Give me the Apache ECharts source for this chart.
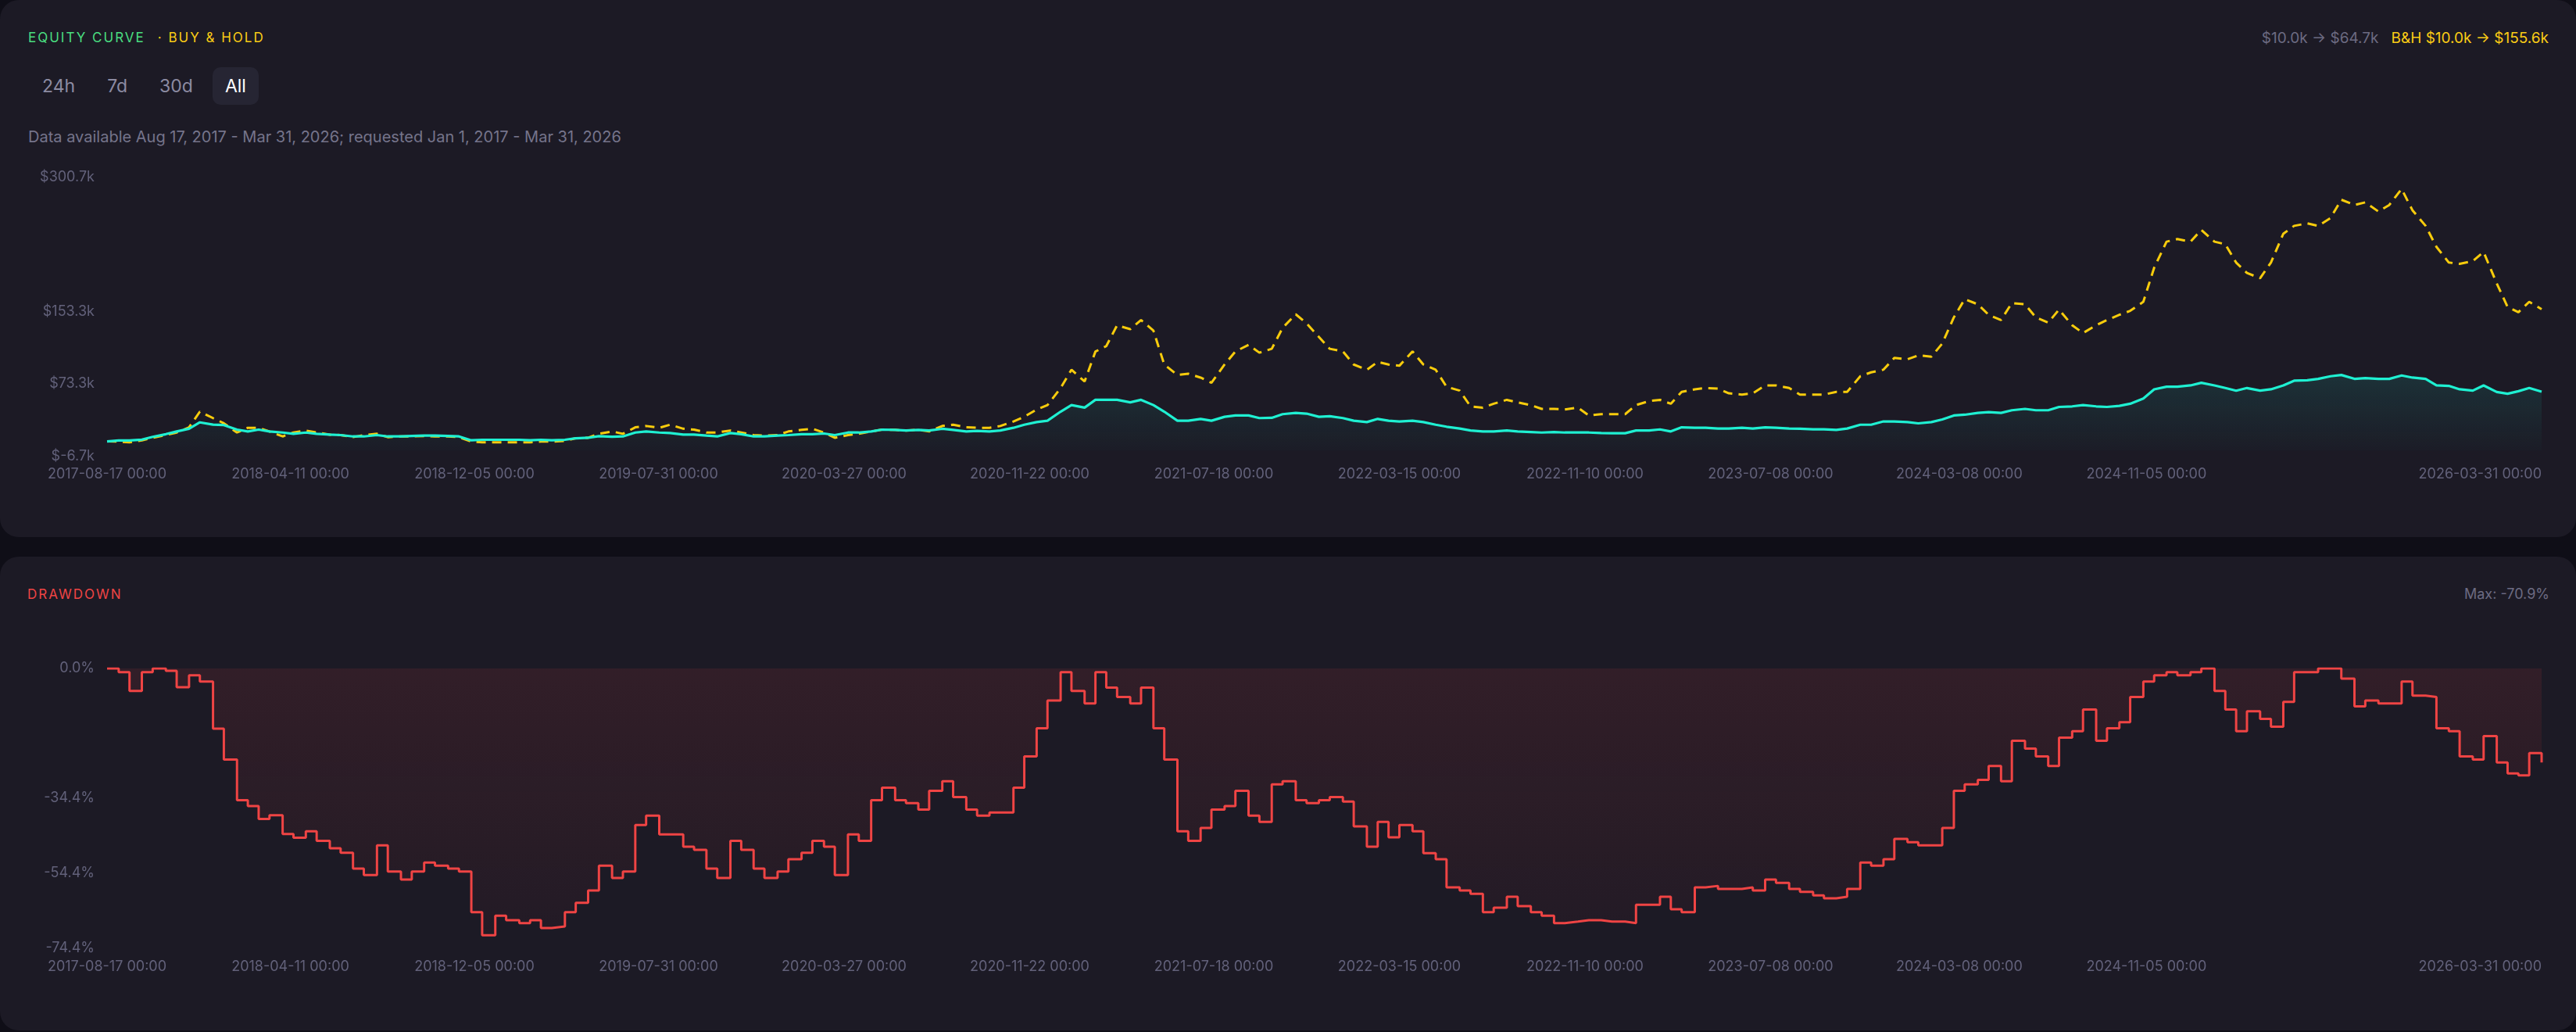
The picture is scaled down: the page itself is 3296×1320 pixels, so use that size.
<!DOCTYPE html>
<html>
<head>
<meta charset="utf-8">
<title>Equity curve</title>
<script src="https://cdn.jsdelivr.net/npm/echarts@6/dist/echarts.min.js"></script>
<style>
  html, body { margin: 0; padding: 0; background: #0f0e17; }
  body { width: 3296px; height: 1320px; position: relative; overflow: hidden; font-family: Inter, 'Noto Sans', sans-serif; }
  .card { position: absolute; left: 0; width: 3296px; background: #1c1a25; border-radius: 24px; }
  #cardTop { top: 0; height: 687px; }
  #cardDd { top: 712px; height: 606px; }
  .t { position: absolute; line-height: 1; transform: translateY(-50%); white-space: nowrap; }
  .ttl { font-size: 17px; letter-spacing: 2px; }
  .green { color: #4ade80; }
  .yellow { color: #facc15; }
  .red { color: #ef4444; }
  .muted { color: #6c6b82; font-size: 18px; }
  .ranges { position: absolute; left: 38px; top: 86px; height: 48px; display: flex; }
  .ranges span { display: block; padding: 0 16px; margin-right: 9px; line-height: 48px; font-size: 23px; color: #8c8ba2; border-radius: 10px; }
  .ranges span.on { background: #262533; color: #ffffff; }
  #chart { position: absolute; left: 0; top: 0; width: 3296px; height: 1320px; }
</style>
</head>
<body>
<div class="card" id="cardTop"></div>
<div class="card" id="cardDd"></div>

<div class="t ttl" style="left:36px; top:48px;"><span class="green">EQUITY CURVE</span><span class="yellow" style="margin-left:16px;">· BUY &amp; HOLD</span></div>
<div class="t muted" style="right:35px; top:48px; font-size:19px;">$10.0k → $64.7k<span class="yellow" style="margin-left:16px;">B&amp;H $10.0k → $155.6k</span></div>
<div class="ranges"><span>24h</span><span>7d</span><span>30d</span><span class="on">All</span></div>
<div class="t muted" style="left:36px; top:175px; color:#75748b; font-size:20px;">Data available Aug 17, 2017 - Mar 31, 2026; requested Jan 1, 2017 - Mar 31, 2026</div>

<div class="t ttl red" style="left:35px; top:760px;">DRAWDOWN</div>
<div class="t muted" style="right:34px; top:760px;">Max: -70.9%</div>

<div id="chart"></div>

<script>
// sample dates (1st and 15th of each month)
const dates = [
  '2017-08-17', '2017-09-01', '2017-09-15', '2017-10-01', '2017-10-15', '2017-11-01', '2017-11-15', '2017-12-01', '2017-12-15',
  '2018-01-01', '2018-01-15', '2018-02-01', '2018-02-15', '2018-03-01', '2018-03-15', '2018-04-01', '2018-04-15', '2018-05-01', '2018-05-15', '2018-06-01', '2018-06-15',
  '2018-07-01', '2018-07-15', '2018-08-01', '2018-08-15', '2018-09-01', '2018-09-15', '2018-10-01', '2018-10-15', '2018-11-01', '2018-11-15', '2018-12-01', '2018-12-15',
  '2019-01-01', '2019-01-15', '2019-02-01', '2019-02-15', '2019-03-01', '2019-03-15', '2019-04-01', '2019-04-15', '2019-05-01', '2019-05-15', '2019-06-01', '2019-06-15',
  '2019-07-01', '2019-07-15', '2019-08-01', '2019-08-15', '2019-09-01', '2019-09-15', '2019-10-01', '2019-10-15', '2019-11-01', '2019-11-15', '2019-12-01', '2019-12-15',
  '2020-01-01', '2020-01-15', '2020-02-01', '2020-02-15', '2020-03-01', '2020-03-15', '2020-04-01', '2020-04-15', '2020-05-01', '2020-05-15', '2020-06-01', '2020-06-15',
  '2020-07-01', '2020-07-15', '2020-08-01', '2020-08-15', '2020-09-01', '2020-09-15', '2020-10-01', '2020-10-15', '2020-11-01', '2020-11-15', '2020-12-01', '2020-12-15',
  '2021-01-01', '2021-01-15', '2021-02-01', '2021-02-15', '2021-03-01', '2021-03-15', '2021-04-01', '2021-04-15', '2021-05-01', '2021-05-15', '2021-06-01', '2021-06-15',
  '2021-07-01', '2021-07-15', '2021-08-01', '2021-08-15', '2021-09-01', '2021-09-15', '2021-10-01', '2021-10-15', '2021-11-01', '2021-11-15', '2021-12-01', '2021-12-15',
  '2022-01-01', '2022-01-15', '2022-02-01', '2022-02-15', '2022-03-01', '2022-03-15', '2022-04-01', '2022-04-15', '2022-05-01', '2022-05-15', '2022-06-01', '2022-06-15',
  '2022-07-01', '2022-07-15', '2022-08-01', '2022-08-15', '2022-09-01', '2022-09-15', '2022-10-01', '2022-10-15', '2022-11-01', '2022-11-15', '2022-12-01', '2022-12-15',
  '2023-01-01', '2023-01-15', '2023-02-01', '2023-02-15', '2023-03-01', '2023-03-15', '2023-04-01', '2023-04-15', '2023-05-01', '2023-05-15', '2023-06-01', '2023-06-15',
  '2023-07-01', '2023-07-15', '2023-08-01', '2023-08-15', '2023-09-01', '2023-09-15', '2023-10-01', '2023-10-15', '2023-11-01', '2023-11-15', '2023-12-01', '2023-12-15',
  '2024-01-01', '2024-01-15', '2024-02-01', '2024-02-15', '2024-03-01', '2024-03-15', '2024-04-01', '2024-04-15', '2024-05-01', '2024-05-15', '2024-06-01', '2024-06-15',
  '2024-07-01', '2024-07-15', '2024-08-01', '2024-08-15', '2024-09-01', '2024-09-15', '2024-10-01', '2024-10-15', '2024-11-01', '2024-11-15', '2024-12-01', '2024-12-15',
  '2025-01-01', '2025-01-15', '2025-02-01', '2025-02-15', '2025-03-01', '2025-03-15', '2025-04-01', '2025-04-15', '2025-05-01', '2025-05-15', '2025-06-01', '2025-06-15',
  '2025-07-01', '2025-07-15', '2025-08-01', '2025-08-15', '2025-09-01', '2025-09-15', '2025-10-01', '2025-10-15', '2025-11-01', '2025-11-15', '2025-12-01', '2025-12-15',
  '2026-01-01', '2026-01-15', '2026-02-01', '2026-02-15', '2026-03-01', '2026-03-15', '2026-03-31'
];

// strategy equity, $k
const stratEquity = [
  10, 11, 11, 12, 15, 18, 21, 24, 31,
  28.5, 28, 23, 21, 23, 21, 19.8, 18.4, 19.8, 18.4, 17.5, 17, 15.5, 15.5, 17, 15.5, 15.5, 16, 16.4, 16.4, 16, 15.5, 11.2, 11.8,
  11.8, 11.8, 11.8, 11.2, 11.8, 11.2, 11.8, 13.5, 14, 15.8, 15.2, 15.5, 19.8, 21, 19.8, 19.2, 17.5, 17.5, 16.4, 15.5, 19.2, 18, 15.5, 15.5,
  16.4, 17, 18, 18, 18.7, 17, 19.8, 19.8, 21, 23, 22.7, 22, 22.7, 22, 23.9, 22.7, 21, 21.6, 21, 22, 25, 28.4, 31.3, 32.8,
  42.8, 50, 47.2, 55.8, 55.8, 55.8, 53, 55.8, 50, 42.8, 32.8, 32.8, 34.8, 32.8, 37.1, 38.6, 38.6, 35.7, 36, 40, 41.4, 40.6, 37.1, 37.7,
  35.7, 32.8, 31.3, 34.8, 32.8, 32, 32.8, 31.3, 28.4, 26.2, 24.2, 22, 21, 21, 22, 21, 20.4, 19.8, 20.4, 19.8, 19.8, 19.8, 19.2, 19,
  19, 22, 22, 23.2, 21, 25.5, 25, 25, 24.2, 24.2, 25, 24.2, 25.5, 25, 24.2, 23.9, 23.3, 23.3, 22.7, 24.2, 28.4, 28.4, 32, 32,
  31.3, 29.9, 31.3, 34.2, 38.6, 39.4, 41.4, 42.3, 41.4, 44.3, 45.8, 44.3, 44.3, 48, 48.6, 50, 48.6, 48, 49.2, 51.5, 57.3, 67.4, 70.2, 70.2,
  71.7, 74.6, 71.7, 68.8, 65.9, 68.8, 65.9, 67.4, 71.7, 76.9, 77.4, 78.9, 81.8, 83.2, 78.9, 79.8, 78.9, 78.9, 82.6, 80.3, 78.9, 71.7, 71.2, 67.4,
  65.9, 71.7, 64.5, 62.5, 65.3, 68.8, 64.7
];

// buy & hold equity, $k
const bhEquity = [
  10, 9.8, 9, 11.2, 14, 17, 19.8, 25.5, 42.8,
  35.7, 30, 19.8, 25, 25, 21, 15.5, 19.8, 22, 19.8, 17.5, 17, 14.7, 17, 18.4, 14.7, 15.5, 15.5, 16, 15.5, 15.5, 14.7, 9.8, 9,
  9, 9, 9, 9, 9.8, 9.8, 10.6, 13.5, 14, 18.4, 21, 18.4, 25.5, 27, 25, 28.4, 24, 23, 19.8, 19.8, 22, 19.8, 17, 16.4,
  17, 21, 22.7, 24, 19.8, 14, 17, 18.4, 21, 23, 22.7, 22, 22.7, 21, 27, 28.4, 25.5, 25, 25, 27, 32, 37.1, 45.2, 50,
  68.8, 88.9, 76, 109, 114.9, 137.9, 133.6, 143.7, 132, 94.7, 83.2, 84.6, 80.3, 74.6, 94.7, 109.1, 116.3, 107.7, 112, 135, 150, 140, 125, 112,
  109.1, 94.7, 88.9, 97.6, 94.7, 93.3, 109.1, 94.7, 88.9, 70.2, 65.9, 48.6, 47.2, 51.5, 55.8, 53, 50, 45.8, 45.8, 45.2, 47.2, 38.6, 40, 40,
  40, 50, 54.4, 55.8, 51.5, 64.5, 67.4, 68.8, 68.2, 63, 61.6, 63, 71.7, 71.7, 68.8, 61.6, 61.6, 61.6, 64.5, 64.5, 81.8, 86.1, 89, 102,
  100.5, 104.8, 103.4, 117.8, 146.6, 166.7, 161, 149.4, 143.7, 162.4, 161, 146.6, 140.8, 155.2, 138, 129.3, 138, 143.7, 149.4, 153.8, 163.8, 201.3, 230, 232.9,
  230, 243, 230, 227.2, 207, 195.5, 189.8, 207, 238.7, 247.4, 250.2, 247.4, 256, 276.2, 270.4, 273.3, 263.2, 270.4, 288, 264.6, 247.4, 224.3, 207, 205.6,
  208.5, 218.6, 184, 158.1, 152.3, 163.8, 155.6
];

// strategy drawdown, %
const drawdown = [
  0, -1, -6, -1, 0, -0.6, -5, -1.8, -3.5,
  -16, -24.2, -35, -36.6, -40, -39, -44, -45, -43.3, -45.8, -47.8, -49, -53.2, -54.9, -47, -54, -56.1, -54, -51.6, -52.4, -53.2, -54, -64.8, -70.9,
  -65.7, -66.9, -67.7, -66.9, -69, -68.6, -64.8, -62.3, -59, -52.4, -55.7, -54, -41.6, -39.1, -44.1, -44.1, -47.4, -48.2, -53.2, -55.7, -45.8, -48.2, -53.2, -55.7,
  -54, -50.7, -49, -45.8, -47.4, -54.9, -44.1, -45.8, -35, -31.7, -35, -35.8, -37.5, -32.5, -30, -34.2, -37.5, -39.1, -38.3, -38.3, -31.7, -23.4, -15.9, -8.5,
  -1, -6, -9.3, -1, -5.1, -7.6, -9.3, -5.1, -15.9, -24.2, -43.3, -45.8, -42.4, -37.5, -36.6, -32.5, -39.1, -40.8, -30.8, -30, -35, -35.8, -35, -34.2,
  -35.4, -42, -47.4, -40.8, -44.9, -41.6, -43.3, -49.1, -50.7, -58.2, -59, -59.9, -64.8, -63.6, -60.7, -63.2, -64.8, -65.7, -67.7, -67.3, -66.9, -66.9, -67.3, -67.3,
  -67.7, -62.8, -62.8, -60.7, -64, -64.8, -58.2, -57.8, -58.6, -58.6, -58.2, -59, -56.1, -57, -58.6, -59.4, -60.3, -61.1, -60.7, -58.6, -51.6, -52.4, -50.7, -45.3,
  -46.2, -47, -47, -42.4, -32.5, -30.8, -29.6, -25.9, -30, -19.2, -21.3, -23.4, -25.9, -18.4, -16.7, -10.9, -19.2, -15.9, -14.3, -7.6, -3.5, -1.8, -1, -1.8,
  -1, 0, -6, -10.9, -16.7, -11.4, -13.4, -15.5, -8.9, -1, -1, 0, 0, -2.7, -10.1, -8.5, -9.3, -9.3, -3.5, -7.2, -7.6, -15.9, -16.7, -23.4,
  -24.2, -18, -25, -27.9, -28.4, -22.5, -25
];

// axis tick labels
const xTickDates = [
  '2017-08-17', '2018-04-11', '2018-12-05', '2019-07-31', '2020-03-27', '2020-11-22', '2021-07-18',
  '2022-03-15', '2022-11-10', '2023-07-08', '2024-03-08', '2024-11-05', '2026-03-31'
];
const equityTicks = [-6.7, 73.3, 153.3, 300.7];
const drawdownTicks = [-74.4, -54.4, -34.4, 0];

(function () {
  'use strict';

  const TEAL = '#1ff0d2';
  const GOLD = '#f8cc0c';
  const RED = '#ef4444';
  const LABEL = { color: '#62617a', fontFamily: 'Inter, sans-serif', fontSize: 18 };

  // local-time timestamp from 'YYYY-MM-DD'
  function ts(s) {
    const p = s.split('-').map(Number);
    return new Date(p[0], p[1] - 1, p[2]).getTime();
  }
  const pad2 = n => (n < 10 ? '0' : '') + n;
  function fmtDate(v) {
    const d = new Date(v);
    return d.getFullYear() + '-' + pad2(d.getMonth() + 1) + '-' + pad2(d.getDate()) + ' 00:00';
  }
  const pairs = vals => vals.map((v, i) => [ts(dates[i]), v]);
  const xMin = ts(dates[0]);
  const xMax = ts(dates[dates.length - 1]);

  function fade(hex, a0, a1) {
    const h = hex.replace('#', '');
    const r = parseInt(h.slice(0, 2), 16), g = parseInt(h.slice(2, 4), 16), b = parseInt(h.slice(4, 6), 16);
    return new echarts.graphic.LinearGradient(0, 0, 0, 1, [
      { offset: 0, color: `rgba(${r},${g},${b},${a0})` },
      { offset: 1, color: `rgba(${r},${g},${b},${a1})` },
    ]);
  }

  // numeric axis holding timestamps, so label positions can be pinned to the dates above
  function dateAxis(gridIndex, margin) {
    return {
      type: 'value', gridIndex: gridIndex, min: xMin, max: xMax, scale: true,
      axisLine: { show: false }, axisTick: { show: false }, splitLine: { show: false },
      axisLabel: Object.assign({}, LABEL, {
        margin: margin,
        customValues: xTickDates.map(ts),
        alignMaxLabel: 'right',
        hideOverlap: false,
        formatter: fmtDate,
      }),
    };
  }

  function valueAxis(gridIndex, min, max, ticks, fmt) {
    return {
      type: 'value', gridIndex: gridIndex, min: min, max: max,
      axisLine: { show: false }, axisTick: { show: false }, splitLine: { show: false },
      axisLabel: Object.assign({}, LABEL, { margin: 16, customValues: ticks, formatter: fmt }),
    };
  }

  const chart = echarts.init(document.getElementById('chart'), null, { renderer: 'canvas' });
  chart.setOption({
    backgroundColor: 'transparent',
    animation: false,
    grid: [
      { left: 137, right: 44, top: 227, height: 357, outerBoundsMode: 'none' },
      { left: 137, right: 44, top: 855, height: 358, outerBoundsMode: 'none' },
    ],
    xAxis: [dateAxis(0, 14), dateAxis(1, 15)],
    yAxis: [
      valueAxis(0, -6.7, 300.7, equityTicks, v => '$' + v.toFixed(1) + 'k'),
      valueAxis(1, -74.4, 0, drawdownTicks, v => v.toFixed(1) + '%'),
    ],
    series: [
      {
        name: 'Buy & Hold', type: 'line', xAxisIndex: 0, yAxisIndex: 0,
        data: pairs(bhEquity), symbol: 'none', z: 2,
        lineStyle: { color: GOLD, width: 3, type: [12, 8] },
      },
      {
        name: 'Strategy', type: 'line', xAxisIndex: 0, yAxisIndex: 0,
        data: pairs(stratEquity), symbol: 'none', z: 3,
        lineStyle: { color: TEAL, width: 3.2 },
        areaStyle: { color: fade(TEAL, 0.16, 0.02) },
      },
      {
        name: 'Drawdown', type: 'line', xAxisIndex: 1, yAxisIndex: 1,
        data: pairs(drawdown), symbol: 'none', step: 'end',
        lineStyle: { color: RED, width: 3 },
        areaStyle: { color: fade(RED, 0.15, 0.05) },
      },
    ],
  });
})();
</script>
</body>
</html>
